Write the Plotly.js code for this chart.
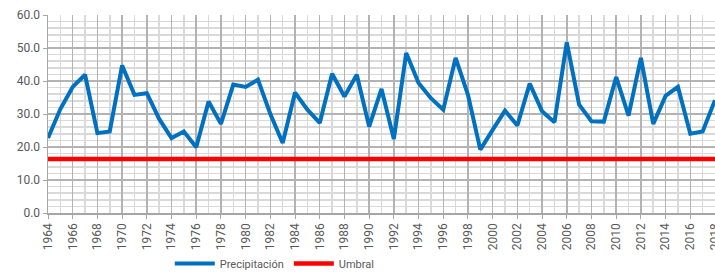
<!DOCTYPE html>
<html>
<head>
<meta charset="utf-8">
<script src="https://cdn.plot.ly/plotly-3.0.1.min.js"></script>
<style>html,body{margin:0;padding:0;background:#fff;}#chart{width:715px;height:278px;}</style>
</head>
<body>
<div id="chart"></div>
<script>
const years = [];
for (let y = 1964; y <= 2018; y++) years.push(y);
const precipitacion = [22.7, 31.5, 38.2, 41.9, 24.2, 24.7, 44.7, 35.8, 36.3, 28.5,
  22.7, 24.7, 19.9, 33.8, 27.0, 38.9, 38.2, 40.4, 30.0, 21.2,
  36.5, 31.3, 27.3, 42.2, 35.3, 41.9, 26.2, 37.6, 22.4, 48.5,
  39.4, 34.8, 31.3, 47.0, 35.8, 19.2, 25.2, 31.0, 26.5, 39.2,
  30.8, 27.5, 51.7, 32.8, 27.8, 27.7, 41.2, 29.5, 47.0, 27.0,
  35.5, 38.2, 24.0, 24.7, 34.2];
const umbralValue = 16.4;
const umbral = years.map(() => umbralValue);
const seriesNames = ["Precipitación", "Umbral"];

const font = {family: "Liberation Sans Narrow, Arial Narrow, Roboto, sans-serif", size: 12, color: "#595959"};
const legendFont = {family: "Liberation Sans Narrow, Arial Narrow, Roboto, sans-serif", size: 11, color: "#595959"};

const traces = [
  {x: years, y: precipitacion, name: seriesNames[0], type: "scatter", mode: "lines",
   line: {color: "#0070c0", width: 4}},
  {x: years, y: umbral, name: seriesNames[1], type: "scatter", mode: "lines",
   line: {color: "#ff0000", width: 4.5}}
];

const layout = {
  width: 715, height: 278,
  margin: {l: 48, r: 0, t: 15, b: 65},
  paper_bgcolor: "#fff", plot_bgcolor: "#fff",
  font: font,
  showlegend: true,
  legend: {orientation: "h", x: 0.34, xanchor: "center", y: -0.255, yanchor: "middle",
           font: legendFont, itemwidth: 40, bgcolor: "rgba(0,0,0,0)", tracegroupgap: 0},
  xaxis: {
    range: [1964, 2018], tick0: 1964, dtick: 2, tickangle: -90,
    ticklabeloverflow: "allow",
    tickfont: font, showgrid: true, gridcolor: "#b3b3b3", gridwidth: 1.5,
    minor: {dtick: 1, tick0: 1964, showgrid: true, gridcolor: "#d9d9d9", gridwidth: 1.5},
    showline: true, linecolor: "#a6a6a6", linewidth: 1.5,
    ticks: "outside", ticklen: 4, tickcolor: "#a6a6a6", zeroline: false, fixedrange: true
  },
  yaxis: {
    range: [0, 60], dtick: 10, tickformat: ".1f",
    tickfont: font, showgrid: true, gridcolor: "#b3b3b3", gridwidth: 1.5,
    minor: {dtick: 2, showgrid: true, gridcolor: "#d9d9d9", gridwidth: 1.5},
    showline: true, linecolor: "#a6a6a6", linewidth: 1.5,
    ticks: "outside", ticklen: 4, tickcolor: "#a6a6a6", zeroline: false, fixedrange: true
  }
};

Plotly.newPlot("chart", traces, layout, {displayModeBar: false, staticPlot: true});
</script>
</body>
</html>
